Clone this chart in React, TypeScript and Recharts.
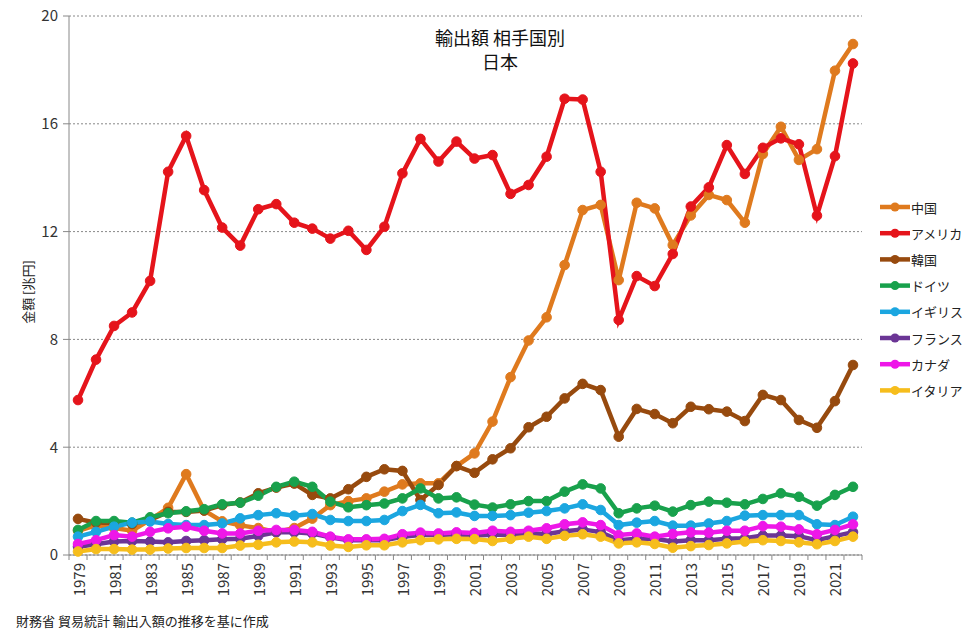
import React from 'react';
import { LineChart, Line, XAxis, YAxis, CartesianGrid } from 'recharts';

// 輸出額 相手国別（日本）単位：兆円
const years = [
  1979, 1980, 1981, 1982, 1983, 1984, 1985, 1986, 1987, 1988, 1989,
  1990, 1991, 1992, 1993, 1994, 1995, 1996, 1997, 1998, 1999, 2000,
  2001, 2002, 2003, 2004, 2005, 2006, 2007, 2008, 2009, 2010, 2011,
  2012, 2013, 2014, 2015, 2016, 2017, 2018, 2019, 2020, 2021, 2022,
];

const china = [
  0.9, 1.1, 1.0, 0.9, 1.3, 1.75, 3.0, 1.65, 1.25, 1.1, 1.0,
  0.85, 1.0, 1.35, 1.85, 2.0, 2.1, 2.35, 2.62, 2.66, 2.66, 3.3,
  3.77, 4.95, 6.6, 7.96, 8.82, 10.76, 12.8, 12.99, 10.2, 13.07, 12.86,
  11.5, 12.6, 13.36, 13.17, 12.33, 14.88, 15.89, 14.66, 15.06, 17.97, 18.96,
];
const usa = [
  5.75, 7.25, 8.5, 9.0, 10.17, 14.22, 15.55, 13.54, 12.15, 11.48, 12.83,
  13.02, 12.33, 12.11, 11.74, 12.03, 11.32, 12.18, 14.16, 15.44, 14.6, 15.34,
  14.71, 14.84, 13.4, 13.73, 14.78, 16.93, 16.9, 14.22, 8.72, 10.35, 9.98,
  11.17, 12.93, 13.64, 15.21, 14.14, 15.11, 15.46, 15.24, 12.59, 14.8, 18.24,
];
const korea = [
  1.34, 1.2, 1.2, 1.15, 1.3, 1.6, 1.6, 1.65, 1.85, 1.95, 2.29,
  2.5, 2.65, 2.23, 2.1, 2.44, 2.9, 3.18, 3.12, 2.04, 2.6, 3.3,
  3.05, 3.55, 3.96, 4.74, 5.13, 5.81, 6.35, 6.12, 4.39, 5.42, 5.23,
  4.89, 5.5, 5.41, 5.32, 4.97, 5.94, 5.75, 5.01, 4.72, 5.71, 7.05,
];
const germany = [
  0.93, 1.26, 1.26, 1.2, 1.4, 1.55, 1.62, 1.7, 1.88, 1.94, 2.2,
  2.53, 2.72, 2.53, 1.98, 1.77, 1.85, 1.91, 2.1, 2.47, 2.1, 2.14,
  1.87, 1.76, 1.88, 2.0, 2.0, 2.35, 2.62, 2.47, 1.55, 1.73, 1.83,
  1.61, 1.85, 1.98, 1.94, 1.88, 2.08, 2.29, 2.16, 1.83, 2.23, 2.53,
];
const uk = [
  0.68, 0.86, 1.05, 1.2, 1.24, 1.15, 1.11, 1.11, 1.17, 1.36, 1.48,
  1.55, 1.46, 1.52, 1.3, 1.26, 1.26, 1.3, 1.63, 1.86, 1.55, 1.58,
  1.45, 1.45, 1.48, 1.57, 1.63, 1.73, 1.88, 1.67, 1.11, 1.2, 1.26,
  1.09, 1.09, 1.17, 1.26, 1.46, 1.48, 1.48, 1.48, 1.14, 1.11, 1.42,
];
const france = [
  0.31, 0.4, 0.5, 0.52, 0.5, 0.47, 0.52, 0.55, 0.58, 0.6, 0.71,
  0.84, 0.84, 0.8, 0.66, 0.55, 0.55, 0.55, 0.68, 0.74, 0.74, 0.77,
  0.72, 0.75, 0.75, 0.8, 0.78, 0.88, 0.95, 0.85, 0.55, 0.6, 0.6,
  0.5, 0.55, 0.55, 0.6, 0.62, 0.72, 0.72, 0.7, 0.55, 0.7, 0.85,
];
const canada = [
  0.41, 0.55, 0.74, 0.68, 0.86, 0.99, 1.05, 0.9, 0.8, 0.8, 0.9,
  0.93, 0.93, 0.86, 0.68, 0.58, 0.58, 0.6, 0.77, 0.83, 0.8, 0.84,
  0.82, 0.9, 0.86, 0.9, 0.99, 1.14, 1.21, 1.11, 0.74, 0.8, 0.68,
  0.78, 0.84, 0.83, 0.9, 0.9, 1.07, 1.05, 0.95, 0.77, 0.93, 1.14,
];
const italy = [
  0.13, 0.22, 0.22, 0.2, 0.2, 0.24, 0.26, 0.26, 0.26, 0.35, 0.38,
  0.47, 0.5, 0.47, 0.35, 0.3, 0.36, 0.36, 0.47, 0.55, 0.58, 0.6,
  0.59, 0.52, 0.6, 0.68, 0.6, 0.71, 0.77, 0.68, 0.43, 0.47, 0.41,
  0.27, 0.33, 0.37, 0.43, 0.5, 0.55, 0.52, 0.47, 0.4, 0.52, 0.68,
];

const yTicks = [0, 4, 8, 12, 16, 20];
// 年ラベルは隔年、目盛り線はカテゴリの境目
const yearLabels = years.filter((y) => y % 2 === 1);
const tickMarks = [years[0] - 0.5, ...years.map((y) => y + 0.5)];

const series = [
  { key: 'china', name: '中国', color: '#DF7A1E', values: china },
  { key: 'usa', name: 'アメリカ', color: '#E5141B', values: usa },
  { key: 'korea', name: '韓国', color: '#974A0E', values: korea },
  { key: 'germany', name: 'ドイツ', color: '#18A14C', values: germany },
  { key: 'uk', name: 'イギリス', color: '#1BA6E0', values: uk },
  { key: 'france', name: 'フランス', color: '#6B3595', values: france },
  { key: 'canada', name: 'カナダ', color: '#EE17E8', values: canada },
  { key: 'italy', name: 'イタリア', color: '#F6BD1C', values: italy },
];

const chartData = years.map((year, i) => {
  const row: Record<string, number> = { year };
  series.forEach((s) => {
    row[s.key] = s.values[i];
  });
  return row;
});

const FONT = '"Noto Sans CJK JP", "Noto Sans", sans-serif';

const YearTick = (props: any) => {
  const { x, y, payload } = props;
  const v = payload.value;
  if (v % 1 !== 0) {
    return <line x1={x} x2={x} y1={y} y2={y + 5} stroke="#888" strokeWidth={1} />;
  }
  return (
    <text
      x={x}
      y={y + 8}
      transform={`rotate(-90 ${x} ${y + 8})`}
      textAnchor="end"
      dominantBaseline="central"
      fontSize={15}
      fill="#333"
    >
      {v}
    </text>
  );
};

const App: React.FC = () => {
  return (
    <div
      style={{
        position: 'absolute',
        left: 0,
        top: 0,
        width: 977,
        height: 639,
        background: '#fff',
        fontFamily: FONT,
      }}
    >
      <LineChart
        width={977}
        height={639}
        data={chartData}
        margin={{ top: 16, right: 115, left: 0, bottom: 0 }}
      >
        <CartesianGrid vertical={false} stroke="#888" strokeDasharray="2 2" />
        <XAxis
          dataKey="year"
          type="number"
          domain={[years[0] - 0.5, years[years.length - 1] + 0.5]}
          ticks={[...tickMarks, ...yearLabels].sort((a, b) => a - b)}
          interval={0}
          height={84}
          tickLine={false}
          tickSize={0}
          tickMargin={0}
          axisLine={{ stroke: '#888' }}
          tick={<YearTick />}
        />
        <YAxis
          domain={[0, 20]}
          ticks={yTicks}
          width={69}
          tickSize={6}
          tickMargin={5}
          axisLine={{ stroke: '#888' }}
          tickLine={{ stroke: '#888' }}
          tick={{ fontSize: 15, fill: '#333' }}
        />
        {series.map((s) => (
          <Line
            key={s.key}
            type="linear"
            dataKey={s.key}
            name={s.name}
            stroke={s.color}
            strokeWidth={4.5}
            dot={{ r: 4.8, fill: s.color, stroke: s.color, strokeWidth: 1 }}
            activeDot={false}
            isAnimationActive={false}
          />
        ))}
      </LineChart>

      <svg
        width={977}
        height={639}
        style={{ position: 'absolute', left: 0, top: 0, pointerEvents: 'none' }}
      >
        <text x={500} y={37} textAnchor="middle" dominantBaseline="central" fontSize={18} fill="#111">
          輸出額 相手国別
        </text>
        <text x={500} y={61} textAnchor="middle" dominantBaseline="central" fontSize={18} fill="#111">
          日本
        </text>
        <text
          x={27}
          y={292}
          transform="rotate(-90 27 292)"
          textAnchor="middle"
          dominantBaseline="central"
          fontSize={13}
          fill="#222"
        >
          金額 [兆円]
        </text>
        <text x={16} y={620} dominantBaseline="central" fontSize={13} fill="#222">
          財務省 貿易統計 輸出入額の推移を基に作成
        </text>
        {series.map((s, i) => {
          const cy = 207 + i * 26.2;
          return (
            <g key={s.key}>
              <line x1={880} x2={910} y1={cy} y2={cy} stroke={s.color} strokeWidth={4.5} />
              <circle cx={895} cy={cy} r={4.5} fill={s.color} />
              <text x={911} y={cy} dominantBaseline="central" fontSize={13} fill="#222">
                {s.name}
              </text>
            </g>
          );
        })}
      </svg>
    </div>
  );
};

export default App;
